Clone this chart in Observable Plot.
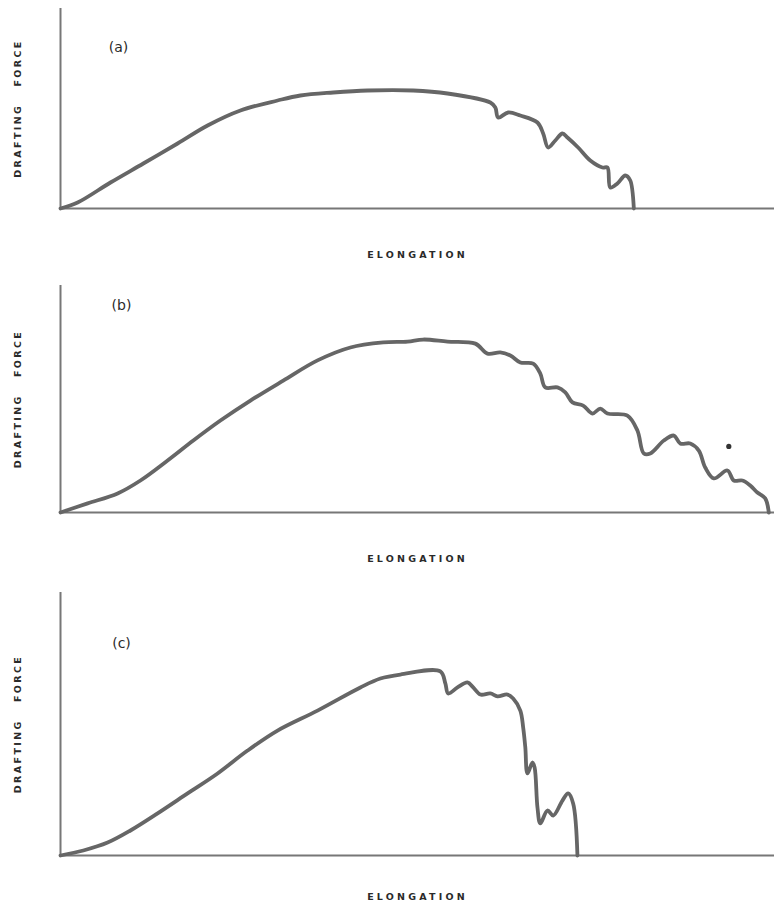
<!DOCTYPE html>
<html>
<head>
<meta charset="utf-8">
<script src="https://cdn.jsdelivr.net/npm/d3@7"></script>
<script src="https://cdn.jsdelivr.net/npm/@observablehq/plot@0.6"></script>
<style>
  html, body { margin: 0; padding: 0; background: #fff; }
  #chart { width: 774px; }
  #chart svg { display: block; }
</style>
</head>
<body>
<div id="chart"></div>
<script>
// ---- Data (arbitrary units: elongation 0–100, drafting force 0–100 of each panel's axis) ----
const panelLabels = ["(a)", "(b)", "(c)"];
const xLabel = "ELONGATION";
const yLabel = "DRAFTING\u00a0\u00a0\u00a0FORCE";

const elongationA = [0, 2.4, 7.0, 11.6, 16.4, 20.6, 25.2, 30.4, 33.6, 38.2, 43.0, 49.4, 54.2, 60.2, 60.9, 61.3, 62.7, 64.4, 66.8, 67.6, 68.3, 69.3, 70.3, 71.0, 72.5, 74.2, 75.9, 76.6, 77.0, 78.0, 79.1, 79.8, 80.3];
const forceA      = [0, 3, 13, 22.5, 32.5, 41.5, 49, 54, 56.5, 58, 59, 59, 57.5, 53, 50.5, 45.5, 48, 46.5, 43, 37.5, 30.5, 34, 37.5, 35.5, 30.5, 24, 20.5, 20.5, 10.5, 12.5, 16.5, 14, 0];

const elongationB = [0, 3.8, 8.0, 11.2, 15.0, 18.6, 22.4, 26.6, 31.2, 36.0, 40.6, 45.2, 48.6, 50.8, 54.2, 58.1, 59.8, 61.6, 63.0, 64.4, 66.2, 67.2, 67.9, 69.6, 70.7, 71.7, 73.2, 74.5, 75.6, 76.6, 79.4, 80.8, 81.7, 82.6, 84.5, 85.9, 86.8, 88.2, 89.4, 90.3, 91.5, 93.4, 94.3, 95.5, 96.6, 97.6, 98.7, 99.2];
const forceB      = [0, 4.0, 8.4, 14.1, 22.9, 31.7, 40.5, 49.3, 58.1, 67.0, 72.7, 74.9, 75.3, 76.2, 75.3, 74.4, 70.0, 70.5, 69.2, 66.1, 65.6, 61.2, 55.1, 55.1, 52.9, 48.5, 47.1, 43.6, 45.8, 43.6, 42.7, 36.1, 26.0, 26.0, 31.7, 33.9, 30.4, 30.4, 27.3, 19.8, 15.0, 18.5, 14.1, 14.1, 11.9, 8.8, 6.2, 0];
const speckB = [{elongation: 93.6, force: 29.1}];

const elongationC = [0, 3.2, 6.6, 9.8, 13.6, 17.8, 22.0, 26.2, 30.4, 36.0, 42.0, 44.8, 47.6, 53.2, 53.9, 54.3, 55.6, 57.0, 57.8, 58.8, 60.2, 61.2, 62.6, 63.4, 64.4, 64.8, 65.1, 65.4, 66.1, 66.4, 66.8, 67.2, 68.2, 69.0, 70.3, 71.1, 71.8, 72.4];
const forceC      = [0, 1.9, 4.9, 9.5, 16.0, 23.6, 31.2, 39.9, 47.5, 55.1, 63.9, 67.3, 68.8, 70.0, 65.4, 61.6, 63.9, 65.8, 63.9, 61.2, 61.6, 60.5, 61.2, 59.7, 55.1, 48.7, 41.1, 31.2, 35.4, 33.5, 18.3, 12.2, 17.1, 15.2, 20.9, 23.6, 19.8, 0];

const toRows = (xs, ys) => xs.map((x, i) => ({elongation: x, force: ys[i]}));

const panels = [
  {label: panelLabels[0], rows: toRows(elongationA, forceA), extra: [],
   height: 270, marginTop: 8, marginBottom: 62, labelDx: 58, labelDy: 39, xLabelDy: 46},
  {label: panelLabels[1], rows: toRows(elongationB, forceB), extra: speckB,
   height: 305, marginTop: 15, marginBottom: 63, labelDx: 61, labelDy: 20, xLabelDy: 46},
  {label: panelLabels[2], rows: toRows(elongationC, forceC), extra: [],
   height: 330, marginTop: 17, marginBottom: 50, labelDx: 61, labelDy: 51, xLabelDy: 41}
];

const curveColor = "#666666";
const axisColor = "#777777";
const textColor = "#2a2a2a";
const font = "'DejaVu Sans', 'Liberation Sans', Arial, sans-serif";

const container = document.getElementById("chart");

for (const p of panels) {
  const svg = Plot.plot({
    width: 774,
    height: p.height,
    marginLeft: 60,
    marginRight: 0,
    marginTop: p.marginTop,
    marginBottom: p.marginBottom,
    style: {fontFamily: font, background: "#fff", color: textColor},
    x: {domain: [0, 100], axis: null},
    y: {domain: [0, 100], axis: null},
    marks: [
      Plot.ruleY([0], {stroke: axisColor, strokeWidth: 2}),
      Plot.ruleX([0], {stroke: axisColor, strokeWidth: 2}),
      Plot.line(p.rows, {x: "elongation", y: "force", stroke: curveColor, strokeWidth: 3.8,
        curve: "catmull-rom", strokeLinejoin: "round", strokeLinecap: "round"}),
      Plot.dot(p.extra, {x: "elongation", y: "force", r: 2.6, fill: "#333", stroke: null}),
      Plot.text([p.label], {text: d => d, frameAnchor: "top-left", dx: p.labelDx, dy: p.labelDy,
        textAnchor: "middle", lineAnchor: "middle", fontSize: 14, fill: textColor}),
      Plot.text([xLabel], {text: d => d, frameAnchor: "bottom", dy: p.xLabelDy,
        textAnchor: "middle", lineAnchor: "middle", fontSize: 9.5, fontWeight: "bold", fill: textColor}),
      Plot.text([yLabel], {text: d => d, frameAnchor: "left", dx: -43, rotate: -90,
        textAnchor: "middle", lineAnchor: "middle", fontSize: 9.5, fontWeight: "bold", fill: textColor})
    ]
  });
  d3.select(svg).selectAll("text").each(function() {
    const t = this.textContent;
    if (t === xLabel) this.setAttribute("letter-spacing", "3.2px");
    else if (t === yLabel) this.setAttribute("letter-spacing", "2.4px");
  });
  container.appendChild(svg);
}
</script>
</body>
</html>
